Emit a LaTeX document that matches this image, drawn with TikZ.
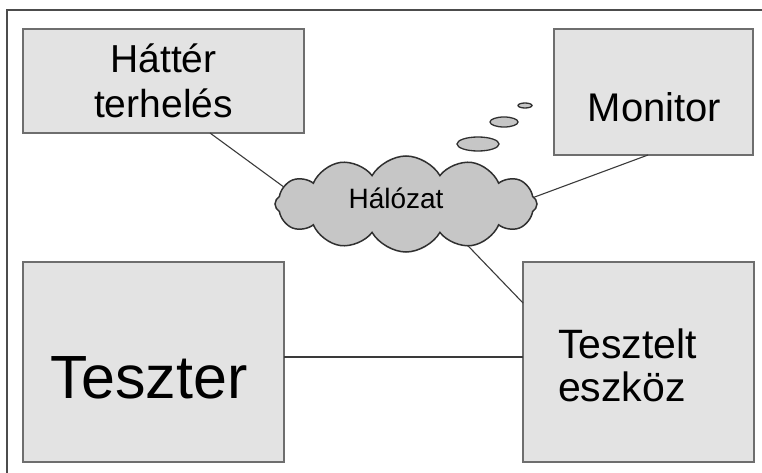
\documentclass[tikz,border=0pt]{standalone}
\usepackage{fontspec}
\setmainfont{Liberation Sans}
\usetikzlibrary{shapes.symbols,calc}
\definecolor{boxfill}{HTML}{E3E3E3}
\definecolor{boxline}{HTML}{6E6E6E}
\definecolor{cloudfill}{HTML}{C6C6C6}
\definecolor{cloudline}{HTML}{303030}
\definecolor{linkline}{HTML}{3A3A3A}
\tikzset{%
  box/.style={draw=boxline,fill=boxfill,line width=1.6pt,
    inner sep=0pt,outer sep=0pt},%
  netcloud/.style={cloud,cloud puffs=12,cloud puff arc=120,draw=cloudline,
    fill=cloudfill,line width=1.5pt,inner sep=0pt,outer sep=0pt},%
  bubble/.style={draw=cloudline,fill=cloudfill,line width=1.3pt},%
  link/.style={draw=linkline,line width=1.1pt},%
  frameline/.style={draw=black!70,line width=1.3pt},%
  label text/.style={inner sep=0pt,outer sep=0pt}%
}

\begin{document}
\begin{tikzpicture}[x=1pt,y=-1pt] % pixel grid of the drawing

\useasboundingbox (0,0) rectangle (762,473);

% outer frame (only the top and left edges show)
\coordinate (frameTL) at (7,10);
\draw[frameline] (frameTL |- 0,473) -- (frameTL) -- (frameTL -| 762,0);

% the boxes
\node[box,minimum width=281pt,minimum height=104pt] (hatter) at (163.5,81) {};
\node[box,minimum width=199pt,minimum height=126pt] (monitor) at (653.5,92) {};
\node[box,minimum width=261pt,minimum height=200pt] (teszter) at (153.5,362) {};
\node[box,minimum width=231pt,minimum height=200pt] (tesztelt) at (638.5,362) {};

% the network
\node[netcloud,minimum width=262pt,minimum height=96pt] (halozat) at (406,204) {};
\filldraw[bubble] (478,144) ellipse (21 and 7);
\filldraw[bubble] (504,122) ellipse (14 and 5);
\filldraw[bubble] (525,105.5) ellipse (7 and 2.5);

% texts
\node[label text,font=\fontsize{39}{45}\selectfont,align=center]
  (hatterText) at (hatter.center) {Háttér\\terhelés};
\node[label text,font=\fontsize{40}{46}\selectfont,anchor=base]
  (monitorText) at ([xshift=1pt,yshift=-30pt]monitor.center) {Monitor};
\node[label text,font=\fontsize{61}{68}\selectfont,anchor=base]
  (teszterText) at ([xshift=-4.5pt,yshift=-36pt]teszter.center) {Teszter};
\node[label text,font=\fontsize{41}{43}\selectfont,align=left,anchor=west]
  (teszteltText) at ([xshift=35pt,yshift=-3.5pt]tesztelt.west) {Tesztelt\\eszköz};
\node[label text,font=\fontsize{28}{32}\selectfont,anchor=base]
  (halozatText) at ([xshift=-10pt,yshift=-4pt]halozat.center) {Hálózat};

% connections
\draw[link] ([xshift=46.5pt]hatter.south) -- (halozat.172);
\draw[link] ([xshift=-5.5pt]monitor.south) -- (halozat.3);
\draw[link] (halozat.-34) -- ([yshift=59pt]tesztelt.west);
\draw[link] ([yshift=5pt]teszter.east) -- ([yshift=5pt]teszter.east -| tesztelt.west);

\end{tikzpicture}
\end{document}
